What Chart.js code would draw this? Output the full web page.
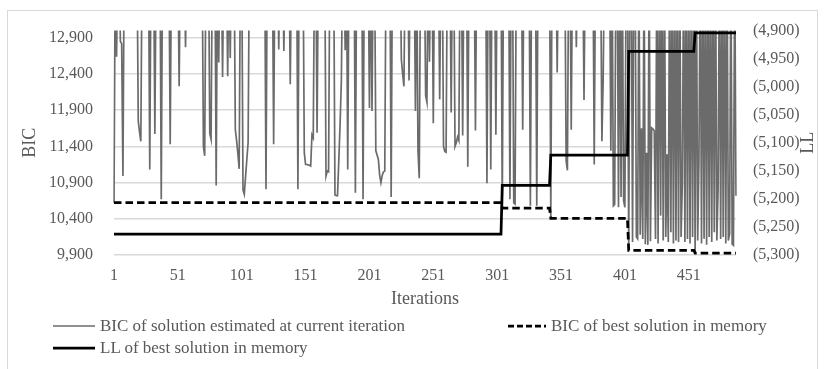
<!DOCTYPE html>
<html><head><meta charset="utf-8">
<script src="https://cdn.jsdelivr.net/npm/chart.js@4/dist/chart.umd.min.js"></script>
<style>
html,body{margin:0;padding:0;background:#fff;}
#wrap{position:relative;width:825px;height:369px;overflow:hidden;font-family:'Liberation Serif',serif;}
#frame{position:absolute;left:7px;top:10px;width:811px;height:380px;border:1px solid #d9d9d9;box-sizing:border-box;}
#c{position:absolute;left:0;top:0;}
.leg{position:absolute;display:flex;align-items:center;font-size:17px;color:#595959;height:20px;line-height:20px;white-space:nowrap;}
.leg svg{display:block;margin-right:5px;}
</style></head><body>
<div id="wrap">
<div id="frame"></div>
<canvas id="c" width="825" height="369"></canvas>
<div id="legend"></div>
</div>
<script>
// ---- data ----
const bicCurrent = [
10623,14000,12640,14000,14000,12850,12820,10990,14000,14000,
14000,14000,14000,14000,14000,14000,14000,14000,14000,11750,
11600,11470,14000,14000,14000,14000,14000,14000,11080,14000,
14000,14000,11570,14000,14000,14000,14000,10670,14000,14000,
14000,14000,14000,14000,11430,14000,14000,14000,14000,14000,
14000,12230,14000,14000,14000,14000,12770,14000,14000,14000,
14000,14000,14000,14000,14000,14000,14000,14000,14000,14000,
11400,11270,14000,14000,14000,11580,11500,14000,14000,14000,
10860,14000,12560,14000,14000,12360,14000,14000,14000,12370,
14000,12620,14000,14000,14000,11630,11480,11300,11090,14000,
14000,10800,10740,10980,11220,11450,14000,14000,14000,14000,
14000,14000,14000,14000,14000,14000,14000,14000,14000,10810,
14000,14000,14000,14000,14000,11430,14000,14000,14000,12740,
14000,14000,14000,12720,14000,14000,14000,14000,12260,14000,
14000,14000,14000,14000,10810,14000,14000,14000,14000,11310,
11150,11150,11145,11140,11130,11560,11520,14000,14000,11590,
14000,14000,14000,14000,14000,14000,10990,11060,11050,14000,
14000,14000,14000,10730,10720,10720,11200,11700,12300,14000,
14000,12730,14000,11080,14000,14000,14000,14000,14000,10760,
14000,14000,14000,14000,14000,10670,14000,14000,14000,14000,
11930,14000,11890,14000,14000,11340,11280,11220,11000,10900,
11000,11050,11060,14000,14000,14000,14000,10700,14000,14000,
14000,14000,14000,14000,14000,12600,12400,12230,14000,14000,
14000,12310,14000,14000,14000,14000,11890,14000,11340,10960,
14000,14000,14000,14000,12100,12010,14000,12570,14000,14000,
11720,14000,14000,14000,14000,12050,14000,14000,11400,11330,
11320,14000,14000,14000,11870,14000,14000,11400,11450,11530,
11480,14000,14000,11550,14000,14000,14000,11120,14000,14000,
14000,14000,14000,11620,14000,14000,14000,14000,14000,14000,
14000,14000,10890,14000,14000,11080,14000,14000,14000,11560,
14000,14000,14000,14000,10549,14000,14000,14000,14000,14000,
10670,14000,14000,10620,10604,14000,14000,14000,14000,14000,
11630,14000,14000,14000,14000,14000,10580,14000,14000,14000,
14000,10580,14000,14000,14000,14000,14000,14000,14000,14000,
14000,14000,10407,14000,14000,14000,14000,12420,14000,14000,
14000,14000,14000,14000,11200,11070,14000,14000,11630,14000,
14000,14000,12770,14000,14000,14000,14000,14000,12040,14000,
14000,14000,14000,14000,14000,14000,11150,14000,14000,14000,
14000,14000,11470,12320,14000,14000,14000,14000,14000,11340,
14000,10580,10600,14000,14000,10560,14000,10700,14000,10650,
10560,14000,14000,9964,14000,14000,10078,14000,14000,10150,
10124,14000,10180,11650,10120,14000,10050,11313,10040,14000,
10090,11656,11640,11615,10120,14000,10060,14000,10444,14000,
10100,14000,10150,11290,10080,14000,10215,14000,10060,14000,
10100,14000,10080,14000,10150,10900,14000,10078,14000,10120,
14000,10060,14000,10150,14000,9927,14000,10100,11221,14000,
10060,14000,10124,14000,10040,14000,10150,14000,10080,14000,
10215,14000,10100,10809,14000,10120,14000,10150,14000,10060,
14000,10100,10190,14000,10050,10033,14000,10718
];
// best-in-memory values change only at these iterations
const bestChangeIters = [1, 305, 343, 404, 456];
const bestBIC = [10623, 10549, 10407, 9964, 9927];
const bestLL = [-5263, -5176, -5122, -4937, -4904];

const seriesNames = ['BIC of solution estimated at current iteration', 'BIC of best solution in memory', 'LL of best solution in memory'];
const xTickLabels = ['1','51','101','151','201','251','301','351','401','451'];
const leftTicks = [9900, 10400, 10900, 11400, 11900, 12400, 12900];
const rightTicks = [-5300, -5250, -5200, -5150, -5100, -5050, -5000, -4950, -4900];
const rightTitle = 'LL';

// ---- tables built from the arrays above ----
const iterations = bicCurrent.map((v, i) => String(i + 1));
function expandBest(vals) {
  return iterations.map((lab, i) => {
    const it = i + 1;
    let k = 0;
    for (let j = 0; j < bestChangeIters.length; j++) if (bestChangeIters[j] <= it) k = j;
    return vals[k];
  });
}
const bestBICSeries = expandBest(bestBIC);
const bestLLSeries = expandBest(bestLL);

const FONT = 'Liberation Serif';
const TXT = '#595959';

// right axis title, read bottom-to-top like the left one
const rightTitlePlugin = {
  id: 'rightTitle',
  afterDraw(chart) {
    const s = chart.scales.y2;
    const ctx = chart.ctx;
    const ca = chart.chartArea;
    ctx.save();
    ctx.translate(s.right - 17, (ca.top + ca.bottom) / 2);
    ctx.rotate(-Math.PI / 2);
    ctx.font = '18px "' + FONT + '"';
    ctx.fillStyle = TXT;
    ctx.textAlign = 'center';
    ctx.textBaseline = 'middle';
    ctx.fillText(rightTitle, 0, 0);
    ctx.restore();
  }
};

new Chart(document.getElementById('c'), {
  type: 'line',
  data: {
    labels: iterations,
    datasets: [
      { label: seriesNames[0], data: bicCurrent, yAxisID: 'y', borderColor: '#6b6b6b', borderWidth: 1.7, pointRadius: 0, tension: 0, order: 3 },
      { label: seriesNames[1], data: bestBICSeries, yAxisID: 'y', borderColor: '#000', borderWidth: 2.75, borderDash: [7.5, 4], pointRadius: 0, tension: 0, order: 2 },
      { label: seriesNames[2], data: bestLLSeries, yAxisID: 'y2', borderColor: '#000', borderWidth: 2.75, pointRadius: 0, tension: 0, order: 1 }
    ]
  },
  plugins: [rightTitlePlugin],
  options: {
    responsive: false,
    animation: false,
    events: [],
    layout: { padding: { top: 29, bottom: 59, left: 0, right: 0 } },
    plugins: { legend: { display: false }, tooltip: { enabled: false } },
    scales: {
      x: {
        type: 'category',
        offset: false,
        grid: { display: false, drawTicks: false },
        border: { display: false },
        ticks: {
          autoSkip: false, maxRotation: 0, minRotation: 0, padding: 11,
          color: TXT, font: { family: FONT, size: 16 },
          callback: function (val, idx) { const l = iterations[idx]; return xTickLabels.includes(l) ? l : ''; }
        },
        title: { display: true, text: 'Iterations', color: TXT, font: { family: FONT, size: 18 }, padding: { top: 0, bottom: 0 } },
        afterFit: s => { s.height = 55; }
      },
      y: {
        position: 'left',
        min: 9900, max: 13000,
        afterBuildTicks: s => { s.ticks = leftTicks.map(v => ({ value: v })); },
        grid: { color: '#d9d9d9', lineWidth: 1.5, drawTicks: false, tickLength: 0 },
        border: { display: false },
        ticks: { padding: 21, color: TXT, font: { family: FONT, size: 16 }, callback: v => Number(v).toLocaleString('en-US') },
        title: { display: true, text: 'BIC', color: TXT, font: { family: FONT, size: 18 }, padding: { top: 19, bottom: 0 } },
        afterFit: s => { s.width = 114; }
      },
      y2: {
        position: 'right',
        min: -5300, max: -4900,
        afterBuildTicks: s => { s.ticks = rightTicks.map(v => ({ value: v })); },
        grid: { display: false, drawTicks: false, tickLength: 0 },
        border: { display: false },
        ticks: { padding: 17, color: TXT, font: { family: FONT, size: 16 }, callback: v => '(' + Math.abs(v).toLocaleString('en-US') + ')' },
        title: { display: false },
        afterFit: s => { s.width = 89; }
      }
    }
  }
});

// ---- legend (HTML) ----
const legendItems = [
  { name: seriesNames[0], x: 53, y: 326, stroke: '#6b6b6b', w: 1.7, dash: '' },
  { name: seriesNames[1], x: 508, y: 326, stroke: '#000', w: 2.75, dash: '6,3' },
  { name: seriesNames[2], x: 53, y: 348, stroke: '#000', w: 2.75, dash: '' }
];
const legEl = document.getElementById('legend');
legendItems.forEach((it, i) => {
  const d = document.createElement('div');
  d.className = 'leg';
  d.style.left = it.x + 'px';
  d.style.top = (it.y - 10) + 'px';
  const sw = i === 1 ? 38 : 42;
  d.innerHTML = '<svg width="' + sw + '" height="20"><line x1="0" y1="10" x2="' + sw + '" y2="10" stroke="' + it.stroke + '" stroke-width="' + it.w + '"' + (it.dash ? ' stroke-dasharray="' + it.dash + '"' : '') + '/></svg>';
  const sp = document.createElement('span');
  sp.textContent = it.name;
  d.appendChild(sp);
  legEl.appendChild(d);
});
</script>
</body></html>
